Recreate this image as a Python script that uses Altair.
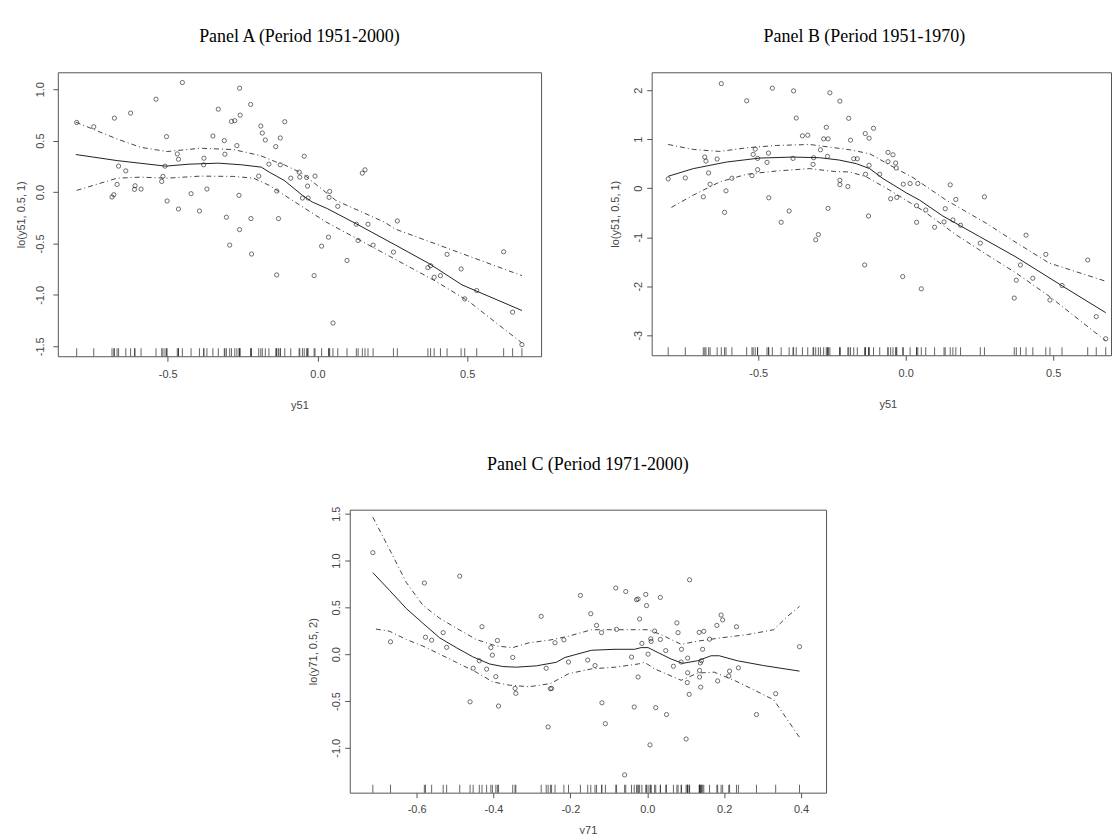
import altair as alt
import pandas as pd

# ---------------- Panel A (1951-2000) ----------------
a_x = [-0.804,-0.747,-0.678,-0.624,-0.539,-0.451,-0.504,-0.664,-0.640,-0.669,-0.680,-0.686,-0.609,-0.611,-0.589,
       -0.520,-0.516,-0.509,-0.468,-0.464,-0.502,-0.464,-0.422,-0.394,-0.379,-0.380,-0.369,-0.349,-0.331,-0.311,
       -0.309,-0.304,-0.293,-0.287,-0.276,-0.269,-0.260,-0.258,-0.262,-0.260,-0.223,-0.222,-0.220,-0.196,-0.189,
       -0.184,-0.174,-0.162,-0.139,-0.136,-0.136,-0.130,-0.109,-0.124,-0.124,-0.044,-0.061,-0.059,-0.089,-0.036,
       -0.008,-0.033,-0.050,-0.031,0.041,0.039,0.068,0.037,0.014,-0.011,0.052,0.099,0.130,0.136,0.169,
       0.150,0.159,0.186,0.267,0.254,0.369,0.378,0.390,0.411,0.433,0.480,0.492,0.532,0.622,0.652,0.683]
a_y = [0.677,0.635,0.719,0.768,0.903,1.065,0.539,0.252,0.206,0.074,-0.026,-0.048,0.061,0.026,0.029,
       0.103,0.152,0.252,0.371,0.319,-0.087,-0.165,-0.016,-0.184,0.329,0.265,0.029,0.545,0.806,0.500,
       0.368,-0.245,-0.516,0.687,0.694,0.452,1.010,0.748,-0.032,-0.365,0.852,-0.258,-0.603,0.155,0.642,
       0.574,0.506,0.271,0.442,0.010,-0.806,-0.258,0.684,0.526,0.265,0.348,0.194,0.145,0.135,0.142,
       0.155,0.058,-0.058,-0.058,0.006,-0.052,-0.139,-0.439,-0.526,-0.813,-1.274,-0.665,-0.313,-0.471,-0.313,
       0.184,0.216,-0.516,-0.281,-0.584,-0.735,-0.716,-0.829,-0.813,-0.606,-0.748,-1.039,-0.958,-0.581,-1.168,-1.484]
a_fit_x = [-0.807,-0.669,-0.507,-0.429,-0.331,-0.253,-0.187,-0.161,-0.111,-0.050,-0.017,0.033,0.128,0.261,0.372,0.483,0.683]
a_fit   = [0.365,0.306,0.252,0.271,0.281,0.265,0.242,0.194,0.113,-0.032,-0.097,-0.161,-0.306,-0.516,-0.694,-0.903,-1.152]
a_up_x  = [-0.807,-0.669,-0.590,-0.502,-0.391,-0.280,-0.191,-0.136,-0.111,-0.050,0.061,0.222,0.261,0.683]
a_up    = [0.680,0.516,0.435,0.394,0.426,0.413,0.355,0.290,0.265,0.180,-0.080,-0.290,-0.361,-0.813]
a_lo_x  = [-0.804,-0.669,-0.591,-0.502,-0.391,-0.280,-0.213,-0.161,-0.006,0.028,0.172,0.394,0.506,0.683]
a_lo    = [0.016,0.135,0.145,0.135,0.155,0.152,0.135,0.065,-0.226,-0.290,-0.516,-0.865,-1.065,-1.468]

# ---------------- Panel B (1951-1970) ----------------
b_x = [-0.805,-0.747,-0.681,-0.677,-0.668,-0.639,-0.663,-0.686,-0.625,-0.609,-0.614,-0.589,-0.539,-0.521,-0.517,
       -0.510,-0.502,-0.502,-0.470,-0.465,-0.464,-0.452,-0.422,-0.395,-0.382,-0.380,-0.371,-0.350,-0.332,-0.314,
       -0.312,-0.305,-0.296,-0.289,-0.278,-0.263,-0.269,-0.263,-0.265,-0.257,-0.223,-0.193,-0.187,-0.137,-0.124,
       -0.109,-0.176,-0.164,-0.223,-0.223,-0.196,-0.124,-0.136,-0.088,-0.126,-0.139,-0.060,-0.043,-0.060,-0.034,
       -0.032,-0.051,-0.030,-0.008,0.015,0.041,-0.010,0.037,0.037,0.068,0.053,0.098,0.130,0.134,0.151,
       0.170,0.160,0.186,0.253,0.267,0.368,0.375,0.389,0.408,0.431,0.475,0.489,0.530,0.617,0.646,0.678]
b_y = [0.189,0.209,0.635,0.554,0.311,0.595,0.081,-0.176,2.135,-0.054,-0.493,0.203,1.784,0.257,0.689,
       0.797,0.608,0.378,0.527,0.716,-0.196,2.041,-0.696,-0.466,0.608,1.986,1.432,1.068,1.081,0.486,
       0.622,-1.054,-0.946,0.784,1.007,1.007,1.243,-0.412,0.649,1.946,1.777,1.426,0.980,1.115,1.020,
       1.223,0.601,0.601,0.162,0.074,0.034,0.466,0.284,0.284,-0.568,-1.568,0.730,0.682,0.541,0.514,
       0.412,-0.216,-0.189,0.081,0.095,0.095,-1.804,-0.358,-0.696,-0.446,-2.054,-0.797,-0.689,-0.419,0.068,
       -0.230,-0.649,-0.757,-1.122,-0.176,-2.243,-1.878,-1.568,-0.959,-1.838,-1.351,-2.284,-1.986,-1.466,-2.622,-3.074]
b_fit_x = [-0.805,-0.720,-0.607,-0.494,-0.382,-0.292,-0.226,-0.167,-0.122,-0.077,0.002,0.047,0.126,0.250,0.374,0.532,0.678]
b_fit   = [0.243,0.399,0.534,0.615,0.635,0.622,0.575,0.500,0.399,0.196,-0.095,-0.243,-0.568,-0.986,-1.405,-2.000,-2.541]
b_up_x  = [-0.805,-0.720,-0.630,-0.539,-0.438,-0.325,-0.240,-0.189,-0.122,-0.032,0.025,0.137,0.273,0.374,0.486,0.678]
b_up    = [0.892,0.791,0.750,0.824,0.872,0.892,0.824,0.784,0.703,0.399,0.216,-0.243,-0.716,-1.108,-1.527,-1.899]
b_lo_x  = [-0.794,-0.720,-0.630,-0.539,-0.438,-0.325,-0.240,-0.189,-0.133,-0.054,0.059,0.171,0.284,0.374,0.486,0.678]
b_lo    = [-0.392,-0.142,0.128,0.284,0.351,0.399,0.340,0.331,0.230,-0.041,-0.459,-0.953,-1.392,-1.730,-2.203,-3.115]

# ---------------- Panel C (1971-2000) ----------------
c_x = [-0.714,-0.668,-0.580,-0.577,-0.561,-0.531,-0.522,-0.488,-0.461,-0.453,-0.437,-0.430,-0.418,-0.407,-0.403,
       -0.394,-0.390,-0.387,-0.350,-0.344,-0.342,-0.276,-0.263,-0.258,-0.249,-0.240,-0.252,-0.217,-0.205,-0.174,
       -0.155,-0.147,-0.136,-0.132,-0.118,-0.119,-0.109,-0.082,-0.080,-0.056,-0.059,-0.041,-0.034,-0.028,-0.024,
       -0.024,-0.020,-0.014,-0.004,-0.002,0.002,0.007,0.009,0.010,0.019,0.022,0.034,0.034,0.048,0.050,
       0.068,0.077,0.080,0.088,0.089,0.101,0.105,0.105,0.104,0.109,0.110,0.135,0.147,0.144,0.138,
       0.141,0.136,0.136,0.139,0.162,0.181,0.183,0.192,0.196,0.214,0.212,0.232,0.237,0.284,0.334,0.396]
c_y = [1.084,0.132,0.760,0.181,0.150,0.230,0.073,0.833,-0.509,-0.150,-0.070,0.293,-0.160,0.070,-0.010,
       -0.240,0.146,-0.554,-0.035,-0.366,-0.418,0.404,-0.150,-0.777,-0.366,0.122,-0.369,0.153,-0.084,0.627,
       -0.063,0.432,-0.122,0.307,-0.519,0.230,-0.742,0.707,0.265,0.669,-1.289,-0.031,-0.564,0.582,0.589,
       -0.244,0.376,0.115,0.638,0.519,0.000,-0.969,0.164,0.136,0.247,-0.571,0.606,0.157,0.038,-0.645,
       -0.129,0.334,0.230,-0.084,0.052,-0.906,-0.042,-0.199,-0.303,-0.429,0.794,0.233,0.244,0.052,-0.094,
       -0.070,-0.174,-0.244,-0.352,0.160,0.307,-0.286,0.418,0.366,-0.181,-0.233,0.293,-0.146,-0.645,-0.422,0.080]
c_fit_x = [-0.714,-0.670,-0.627,-0.584,-0.540,-0.497,-0.454,-0.410,-0.376,-0.341,-0.289,-0.237,-0.214,-0.145,-0.084,
           -0.033,-0.016,0.002,0.028,0.062,0.092,0.131,0.166,0.187,0.234,0.303,0.396]
c_fit   = [0.871,0.679,0.488,0.331,0.174,0.070,-0.028,-0.105,-0.132,-0.139,-0.125,-0.087,-0.035,0.042,0.052,
           0.052,0.070,0.070,0.017,-0.052,-0.098,-0.070,-0.017,-0.017,-0.070,-0.122,-0.181]
c_up_x  = [-0.714,-0.670,-0.627,-0.584,-0.540,-0.497,-0.445,-0.393,-0.350,-0.307,-0.254,-0.205,-0.145,-0.084,0.002,
           0.036,0.088,0.131,0.191,0.260,0.329,0.364,0.396]
c_up    = [1.463,1.115,0.767,0.523,0.383,0.279,0.157,0.087,0.070,0.122,0.150,0.192,0.261,0.261,0.261,
           0.209,0.105,0.139,0.174,0.209,0.261,0.401,0.510]
c_lo_x  = [-0.706,-0.670,-0.627,-0.584,-0.540,-0.497,-0.445,-0.402,-0.359,-0.307,-0.252,-0.205,-0.145,-0.084,-0.024,
           -0.007,0.019,0.088,0.131,0.174,0.226,0.278,0.329,0.396]
c_lo    = [0.268,0.244,0.157,0.087,0.000,-0.087,-0.192,-0.296,-0.331,-0.348,-0.314,-0.209,-0.157,-0.139,-0.105,
           -0.087,-0.157,-0.279,-0.202,-0.192,-0.279,-0.383,-0.488,-0.889]

titles = ["Panel A (Period 1951-2000)", "Panel B (Period 1951-1970)", "Panel C (Period 1971-2000)"]

SANS = "Liberation Sans"
SERIF = "Liberation Serif"
AXC = "#555555"


def lab(fmt):
    return "replace(format(datum.value, '%s'), '\u2212', '-')" % fmt


def panel(px, py, fx, fy, ux, uy, lx, ly, xdom, ydom, xticks, yticks, yfmt, xtitle, ytitle,
          width, height, title, tdx, toff, ylabpad, ytitpad, xlabpad, xtitpad, xtitx=None):
    pts = pd.DataFrame({"x": px, "y": py})
    fit = pd.DataFrame({"x": fx, "y": fy})
    up = pd.DataFrame({"x": ux, "y": uy})
    lo = pd.DataFrame({"x": lx, "y": ly})

    xs = alt.Scale(domain=xdom, nice=False, zero=False)
    ys = alt.Scale(domain=ydom, nice=False, zero=False)
    xkw = dict(values=xticks, labelExpr=lab(".1f"), title=xtitle, grid=False, domain=False,
               tickSize=5, tickColor=AXC, labelColor="#444", labelFont=SANS, labelFontSize=11,
               labelPadding=xlabpad, titleFont=SANS, titleFontSize=11, titleFontWeight="normal",
               titleColor="#444", titlePadding=xtitpad, labelFlush=False)
    if xtitx is not None:
        xkw["titleX"] = xtitx
    xaxis = alt.Axis(**xkw)
    yaxis = alt.Axis(values=yticks, labelExpr=lab(yfmt), title=ytitle, grid=False, domain=False,
                     tickSize=5, tickColor=AXC, labelColor="#444", labelFont=SANS, labelFontSize=11,
                     labelAngle=270, labelAlign="center", labelBaseline="bottom",
                     labelPadding=ylabpad, titleFont=SANS, titleFontSize=11, titleFontWeight="normal",
                     titleColor="#444", titlePadding=ytitpad, labelFlush=False)

    X = alt.X("x:Q", scale=xs, axis=xaxis)
    Y = alt.Y("y:Q", scale=ys, axis=yaxis)

    points = alt.Chart(pts).mark_point(shape="circle", filled=False, color="black",
                                       size=18, strokeWidth=0.8).encode(x=X, y=Y)
    rug = alt.Chart(pts).mark_tick(orient="vertical", size=8, thickness=1, yOffset=-4,
                                   color="#222").encode(x=alt.X("x:Q", scale=xs), y=alt.datum(ydom[0]))
    line = alt.Chart(fit).mark_line(color="#222", strokeWidth=1, clip=True).encode(x=X, y=Y)
    upl = alt.Chart(up).mark_line(color="#444", strokeWidth=1, strokeDash=[5, 3, 1, 3], clip=True).encode(x=X, y=Y)
    lol = alt.Chart(lo).mark_line(color="#444", strokeWidth=1, strokeDash=[5, 3, 1, 3], clip=True).encode(x=X, y=Y)

    return alt.layer(points, line, upl, lol, rug).properties(
        width=width, height=height,
        title=alt.TitleParams(text=title, font=SERIF, fontSize=18, fontWeight="normal",
                              color="black", anchor="middle", offset=toff, dx=tdx),
    )


A = panel(a_x, a_y, a_fit_x, a_fit, a_up_x, a_up, a_lo_x, a_lo,
          [-0.867, 0.747], [-1.597, 1.165], [-0.5, 0.0, 0.5], [-1.5, -1.0, -0.5, 0.0, 0.5, 1.0], ".1f",
          "y51", "lo(y51, 0.5, 1)", 485, 285, titles[0], 0, 26, 7, 8, 7, 20)
B = panel(b_x, b_y, b_fit_x, b_fit, b_up_x, b_up, b_lo_x, b_lo,
          [-0.861, 0.696], [-3.41, 2.366], [-0.5, 0.0, 0.5], [-3, -2, -1, 0, 1, 2], "d",
          "y51", "lo(y51, 0.5, 1)", 461, 284, titles[1], -17, 26, 3, 12, 7, 20, xtitx=237)
C = panel(c_x, c_y, c_fit_x, c_fit, c_up_x, c_up, c_lo_x, c_lo,
          [-0.774, 0.465], [-1.479, 1.543], [-0.6, -0.4, -0.2, 0.0, 0.2, 0.4],
          [-1.0, -0.5, 0.0, 0.5, 1.0, 1.5], ".1f",
          "y71", "lo(y71, 0.5, 2)", 478, 284, titles[2], 0, 32, 3, 12, 6, 10)

spacer = alt.Chart(pd.DataFrame({"s": [0]})).mark_point(opacity=0).encode(
    x=alt.X("s:Q", axis=None), y=alt.Y("s:Q", axis=None)
).properties(width=249, height=10, view=alt.ViewBackground(stroke="transparent"))

top = alt.hconcat(A, B, spacing=67)
bottom = alt.hconcat(spacer, C, spacing=0)

chart = alt.vconcat(top, bottom, spacing=44).properties(
    padding={"left": 7, "top": 18, "right": 0, "bottom": 0},
    background="white",
).configure_view(stroke=AXC, strokeWidth=1)

chart.save("out.html", embed_options={"renderer": "svg", "actions": False})
